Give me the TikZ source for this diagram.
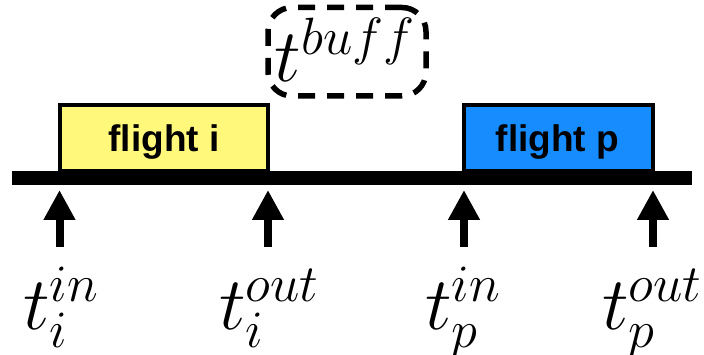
\RequirePackage{fix-cm}
\documentclass[tikz,border=0pt]{standalone}
\usepackage{fontspec}
\setsansfont{Liberation Sans}[Ligatures=NoCommon]
\usetikzlibrary{arrows.meta}
\definecolor{flyellow}{RGB}{255,248,122}
\definecolor{flblue}{RGB}{22,140,255}
\begin{document}
\begin{tikzpicture}[x=1pt,y=-1pt,
  flightbox/.style={draw=black,line width=4pt,inner sep=0pt,minimum height=66pt},
  flighttext/.style={anchor=base,inner sep=0pt,font=\sffamily\bfseries\fontsize{37}{40}\selectfont},
  timebar/.style={line width=14pt,line cap=butt},
  uparrow/.style={line width=8pt,-{Triangle[width=30pt,length=30pt]}},
  tlabel/.style={anchor=base,inner sep=0pt,font=\fontsize{75}{80}\selectfont},
  buffbox/.style={draw=black,line width=5.5pt,dash pattern=on 17pt off 12pt,rounded corners=24pt,
    minimum width=158pt,minimum height=88.5pt,inner sep=0pt}]
\useasboundingbox (0,0) rectangle (704,355);
% flights
\node[flightbox,fill=flyellow,minimum width=208.5pt] (fi) at (163.75,138) {};
\node[flightbox,fill=flblue,minimum width=189pt] (fp) at (558.5,138) {};
\node[flighttext] (fitext) at (164,152) {flight i};
\node[flighttext] (fptext) at (557.5,152) {flight p};
% buffer
\node[buffbox] (buff) at (347,51.75) {};
\node[tlabel] (tbuff) at (345,82) {$t^{buff}$};
% time bar
\coordinate (barL) at (12,178);
\coordinate (barR) at (692,178);
\draw[timebar] (barL) -- (barR);
% arrows
\foreach \n/\x in {1/59.5,2/268,3/464,4/653}{
  \coordinate (ab\n) at (\x,247);
  \coordinate (at\n) at (\x,190);
  \draw[uparrow] (ab\n) -- (at\n);
}
% labels
\node[tlabel] (l1) at (61,329) {$t_i^{in}$};
\node[tlabel] (l2) at (269,329) {$t_i^{out}$};
\node[tlabel] (l3) at (463,329) {$t_p^{in}$};
\node[tlabel] (l4) at (652,329) {$t_p^{out}$};
\end{tikzpicture}
\end{document}
